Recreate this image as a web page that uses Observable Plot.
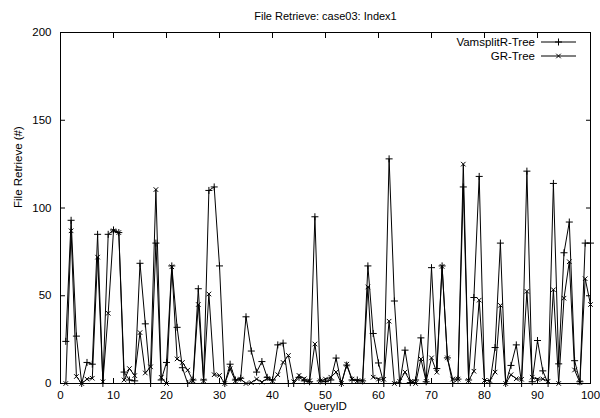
<!DOCTYPE html>
<html>
<head>
<meta charset="utf-8">
<script src="https://cdn.jsdelivr.net/npm/d3@7"></script>
<script src="https://cdn.jsdelivr.net/npm/@observablehq/plot@0.6"></script>
<style>
  body { margin: 0; background: #fff; }
  #chart { position: relative; width: 600px; height: 418px; font-family: "Liberation Sans", Arial, sans-serif; }
  #legend { position: absolute; right: 24px; top: 35px; font-size: 11.5px; line-height: 14px; color: #000; }
  #legend .row { display: flex; align-items: center; justify-content: flex-end; height: 14px; }
  #legend svg { margin-left: 6px; }
</style>
</head>
<body>
<div id="chart"></div>
<script>
const titleText = "File Retrieve: case03: Index1";
const xLabel = "QueryID";
const yLabel = "File Retrieve (#)";
const seriesNames = ["VamsplitR-Tree", "GR-Tree"];
const seriesSymbols = ["plus", "times"];

const queryIds = d3.range(1, 101);

const vamsplit = [
  24, 93, 27, 0, 12, 11, 85, 0, 85, 87.5,
  86, 6.5, 2, 1.5, 68.5, 34, 0, 80, 2, 12,
  67, 32, 9, 0, 2, 54, 2, 110, 112, 67,
  0, 11, 2, 3, 38, 18.5, 6.5, 12.5, 3.5, 2,
  22, 23, 0, 0, 3.5, 1.5, 1, 95, 1.5, 1,
  2, 14.5, 0, 10.5, 2, 2, 1.5, 67, 28.5, 11.7,
  0, 128, 47, 0, 19, 0.5, 2, 26, 1, 66,
  8.5, 67, 14.6, 0, 2.5, 112, 2, 49, 118, 0,
  0, 20.5, 80, 0, 10.3, 22, 0, 121, 1, 24.5,
  7.2, 0, 114, 11.2, 74.5, 92, 13, 1, 80, 80
];

const grtree = [
  0, 87, 4, 0, 2.5, 3, 72, 1, 40, 87,
  86, 2, 8.5, 4.5, 29, 6, 9.5, 110.5, 3.5, 0,
  66.5, 14, 12, 7.6, 1.5, 45, 1.5, 51, 5, 4.6,
  0, 8.4, 1.5, 2.5, 0, 0.5, 2.5, 0.8, 2.8, 1.5,
  5, 12, 16, 1, 4.6, 2.7, 1.5, 22.5, 1.5, 2.5,
  3.6, 6.5, 0, 11, 2.5, 1.5, 1.5, 55, 3.6, 2.5,
  2.4, 35.5, 0, 1.2, 6.5, 1, 0, 14, 1.2, 14.6,
  6.4, 66.7, 14.6, 2.5, 2.5, 125, 1.7, 7, 47.5, 1.7,
  1.7, 6.5, 44.5, 0, 5, 2.7, 2.4, 52.5, 3.6, 2.4,
  2.6, 1.3, 53.4, 0, 48.6, 69.4, 7.7, 0.5, 59.7, 45
];

const xTicks = [0, 10, 20, 30, 40, 50, 60, 70, 80, 90, 100];
const yTicks = [0, 50, 100, 150, 200];

const rows = [];
queryIds.forEach((q, i) => {
  rows.push({series: seriesNames[0], q, v: vamsplit[i]});
  rows.push({series: seriesNames[1], q, v: grtree[i]});
});
const s0 = rows.filter(d => d.series === seriesNames[0]);
const s1 = rows.filter(d => d.series === seriesNames[1]);

const font = "Liberation Sans, Arial, sans-serif";
const rPlus = 2.4, rTimes = 2.2;

const plot = Plot.plot({
  width: 600,
  height: 418,
  marginLeft: 60,
  marginRight: 10,
  marginTop: 32,
  marginBottom: 35,
  style: {fontFamily: font, fontSize: "11px", background: "#fff", color: "#000"},
  x: {domain: [0, 100]},
  y: {domain: [0, 200]},
  marks: [
    Plot.axisX(xTicks, {anchor: "bottom", tickSize: -5, tickPadding: 12, fontSize: 11.5, label: null}),
    Plot.axisX(xTicks, {anchor: "top", tickSize: -5, tickFormat: () => "", label: null}),
    Plot.axisY(yTicks, {anchor: "left", tickSize: -5, tickPadding: 14, fontSize: 11.5, label: null}),
    Plot.axisY(yTicks, {anchor: "right", tickSize: -5, tickFormat: () => "", label: null}),
    Plot.line(s0, {x: "q", y: "v", stroke: "#000", strokeWidth: 1}),
    Plot.line(s1, {x: "q", y: "v", stroke: "#000", strokeWidth: 1}),
    Plot.dot(s0, {x: "q", y: "v", symbol: seriesSymbols[0], r: rPlus, stroke: "#000", strokeWidth: 1}),
    Plot.dot(s1, {x: "q", y: "v", symbol: seriesSymbols[1], r: rTimes, stroke: "#000", strokeWidth: 1}),
    Plot.frame({stroke: "#000", strokeWidth: 1}),
    Plot.text([titleText], {frameAnchor: "top", dy: -20, fontSize: 11, fill: "#000"}),
    Plot.text([xLabel], {frameAnchor: "bottom", dy: 26, fontSize: 11.5, fill: "#000"}),
    Plot.text([yLabel], {frameAnchor: "left", rotate: -90, dx: -42, fontSize: 11.5, fill: "#000"})
  ]
});

const chart = document.getElementById("chart");
chart.appendChild(plot);

// legend overlay
const legend = document.createElement("div");
legend.id = "legend";
seriesNames.forEach((name, i) => {
  const row = document.createElement("div");
  row.className = "row";
  const span = document.createElement("span");
  span.textContent = name;
  row.appendChild(span);
  const ns = "http://www.w3.org/2000/svg";
  const svg = document.createElementNS(ns, "svg");
  svg.setAttribute("width", "35");
  svg.setAttribute("height", "10");
  const line = document.createElementNS(ns, "line");
  line.setAttribute("x1", "0"); line.setAttribute("x2", "35");
  line.setAttribute("y1", "5"); line.setAttribute("y2", "5");
  line.setAttribute("stroke", "#000");
  svg.appendChild(line);
  const rr = i === 0 ? rPlus : rTimes;
  const sym = d3.symbol(i === 0 ? d3.symbolPlus : d3.symbolTimes, Math.PI * rr * rr);
  const p = document.createElementNS(ns, "path");
  p.setAttribute("d", sym());
  p.setAttribute("transform", "translate(17.5,5)");
  p.setAttribute("stroke", "#000");
  p.setAttribute("fill", "none");
  svg.appendChild(p);
  row.appendChild(svg);
  legend.appendChild(row);
});
chart.appendChild(legend);
</script>
</body>
</html>
